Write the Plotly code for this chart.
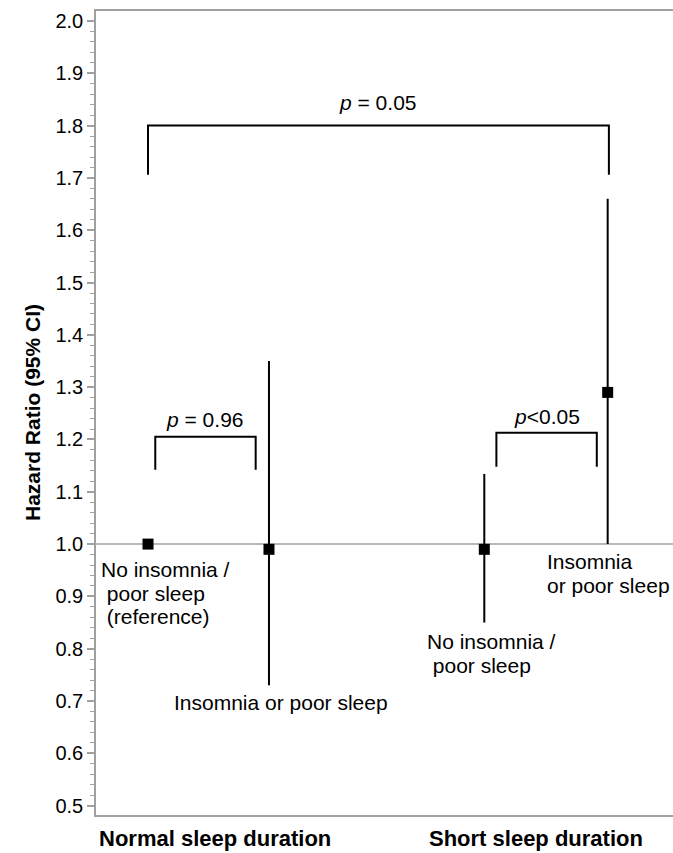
import plotly.graph_objects as go

# ---- data ----
x_pos = [1.0, 2.0, 3.78, 4.8]
hr = [1.00, 0.99, 0.99, 1.29]
ci_low = [1.00, 0.73, 0.85, 1.00]
ci_high = [1.00, 1.35, 1.134, 1.66]

group_labels = ["Normal sleep duration", "Short sleep duration"]
group_x = [1.55, 4.21]

# brackets
bracket_x_left = [1.0, 1.06, 3.88]
bracket_x_right = [4.81, 1.89, 4.71]
bracket_top = [1.80, 1.205, 1.213]
bracket_end_l = [1.706, 1.142, 1.148]
bracket_end_r = [1.706, 1.142, 1.148]
p_texts = ["<i>p</i> = 0.05", "<i>p</i> = 0.96", "<i>p</i><0.05"]
p_y = [1.8436, 1.2377, 1.2434]

point_labels = [
    ["No insomnia /", " poor sleep", " (reference)"],
    ["Insomnia or poor sleep"],
    ["No insomnia /", " poor sleep"],
    ["Insomnia", "or poor sleep"],
]
label_x = [0.597, 1.199, 3.29, 4.285]
label_y = [0.9509, 0.6966, 0.8132, 0.9662]

y_ticks = [round(0.5 + 0.1 * i, 1) for i in range(16)]

FONT = "Liberation Sans, Arial, sans-serif"
GRAY = "#a0a0a0"
LINE_STEP = 23.5

fig = go.Figure()

fig.add_shape(type="line", xref="paper", x0=0, x1=1, yref="y", y0=1.0, y1=1.0,
              line=dict(color=GRAY, width=1.5), layer="below")

for xp, lo, hi in zip(x_pos, ci_low, ci_high):
    if hi > lo:
        fig.add_trace(go.Scatter(x=[xp, xp], y=[lo, hi], mode="lines",
                                 line=dict(color="black", width=2),
                                 showlegend=False, hoverinfo="skip"))

fig.add_trace(go.Scatter(x=x_pos, y=hr, mode="markers",
                         marker=dict(symbol="square", size=11, color="black"),
                         showlegend=False))

for xl, xr, yt, yl, yr, pt, py in zip(bracket_x_left, bracket_x_right, bracket_top,
                                      bracket_end_l, bracket_end_r, p_texts, p_y):
    fig.add_trace(go.Scatter(x=[xl, xl, xr, xr], y=[yl, yt, yt, yr], mode="lines",
                             line=dict(color="black", width=2),
                             showlegend=False, hoverinfo="skip"))
    fig.add_annotation(x=(xl + xr) / 2, y=py, xref="x", yref="y", text=pt,
                       showarrow=False, yanchor="middle",
                       font=dict(family=FONT, size=21, color="black"))

for lines, lx, ly in zip(point_labels, label_x, label_y):
    for i, t in enumerate(lines):
        txt = "&nbsp;" + t[1:] if t.startswith(" ") else t
        fig.add_annotation(x=lx, y=ly, xref="x", yref="y", text=txt,
                           showarrow=False, xanchor="left", yanchor="middle",
                           yshift=-LINE_STEP * i, align="left",
                           font=dict(family=FONT, size=21, color="black"))

for t, gx in zip(group_labels, group_x):
    fig.add_annotation(x=gx, y=0, xref="x", yref="paper", text=t, showarrow=False,
                       yanchor="middle", yshift=-23,
                       font=dict(family=FONT, size=22, color="black", weight="bold"))

fig.add_annotation(x=0, y=0.5, xref="paper", yref="paper", text="Hazard Ratio (95% CI)",
                   showarrow=False, textangle=-90, xanchor="center", yanchor="middle",
                   xshift=-64, font=dict(family=FONT, size=21, color="black", weight="bold"))

fig.update_layout(
    width=673, height=853,
    margin=dict(l=96, r=0, t=11, b=38),
    paper_bgcolor="white", plot_bgcolor="white",
    showlegend=False,
    xaxis=dict(range=[0.57, 5.34], showgrid=False, zeroline=False,
               showticklabels=False, ticks="", showline=True, mirror=True,
               linecolor=GRAY, linewidth=1.5),
    yaxis=dict(range=[0.4821, 2.0191], showgrid=False, zeroline=False,
               tickvals=y_ticks, ticktext=[f"{v:.1f}" for v in y_ticks],
               ticks="outside", ticklen=7, tickcolor=GRAY, tickwidth=1.5,
               showline=True, linecolor=GRAY, linewidth=1.5,
               tickfont=dict(family=FONT, size=20, color="black"),
               minor=dict(dtick=0.02, tick0=0.5, ticks="outside", ticklen=4,
                          tickcolor=GRAY, tickwidth=1.2)),
)

fig.write_html("out.html", config={"displayModeBar": False},
               post_script="document.body.style.margin='0px';")
